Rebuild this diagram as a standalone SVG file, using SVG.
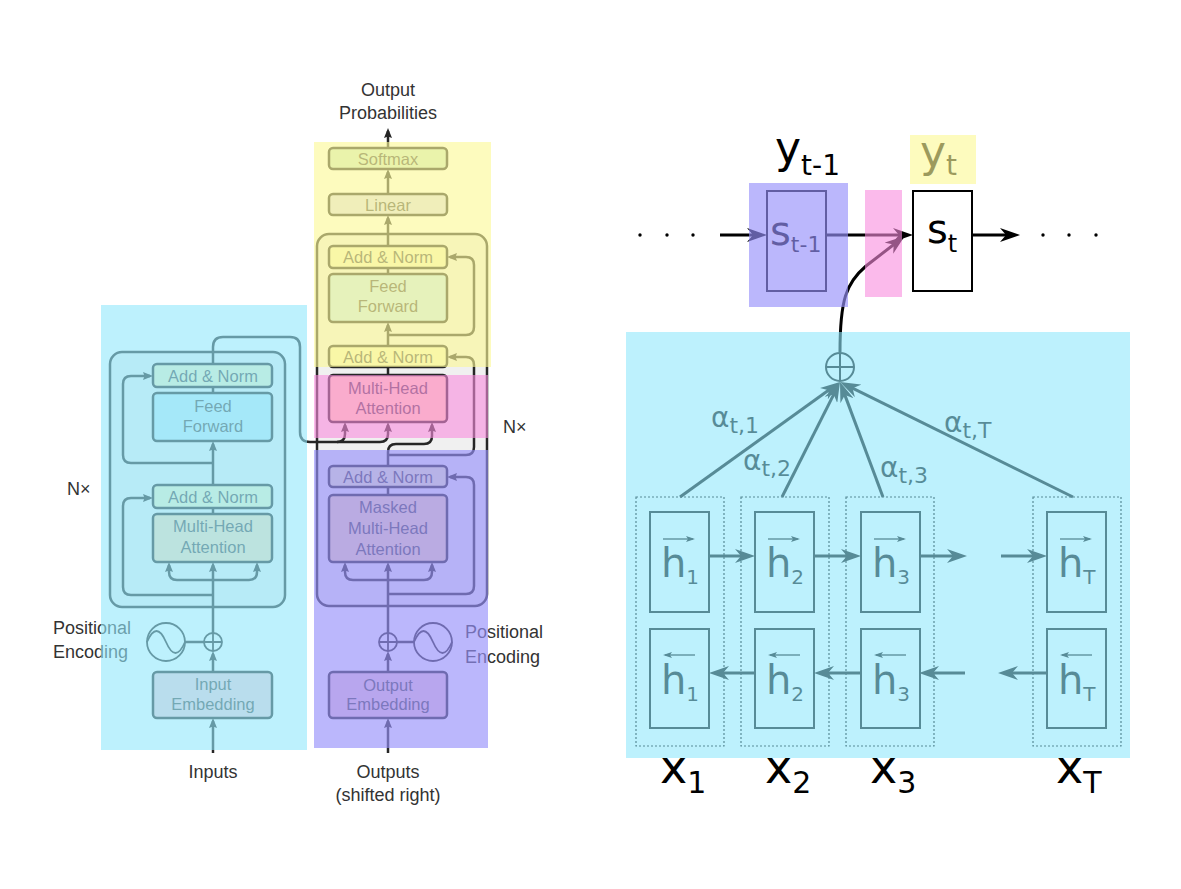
<svg xmlns="http://www.w3.org/2000/svg" width="1181" height="889" viewBox="0 0 1181 889">
<style>
.box{stroke:#262626;stroke-width:2.5}
.ln{fill:none;stroke:#262626;stroke-width:2.5}
.bt{font-family:"Liberation Sans",Arial,sans-serif;font-size:16.5px;fill:#4a4a4a;text-anchor:middle}
.ot{font-family:"Liberation Sans",Arial,sans-serif;font-size:18px;fill:#333}
.an{stroke:#000;stroke-width:3;fill:none}
.hb{fill:none;stroke:#000;stroke-width:2}
.db{fill:none;stroke:#000;stroke-width:1.2;stroke-dasharray:2 2}
.va{stroke:#000;stroke-width:1.3;fill:none}
.dv{font-family:"DejaVu Sans",sans-serif;fill:#000}
.an2{fill:#f3f3c3}
.ff{fill:#c2e8f6}
.mha{fill:#fcdcb4}
.emb{fill:#f5cdd7}
</style>
<defs>
<marker id="tri" viewBox="0 0 10 8" refX="7" refY="4" markerWidth="10" markerHeight="8" markerUnits="userSpaceOnUse" orient="auto"><path d="M0,0 L10,4 L0,8 L1.5,4 z" fill="#262626"/></marker>
<marker id="ar" viewBox="0 0 20 14" refX="14" refY="7" markerWidth="20" markerHeight="14" markerUnits="userSpaceOnUse" orient="auto"><path d="M0,0 L20,7 L0,14 L6,7 z" fill="#000"/></marker>
<marker id="sm" viewBox="0 0 9 6" refX="7" refY="3" markerWidth="9" markerHeight="6" markerUnits="userSpaceOnUse" orient="auto"><path d="M0,0 L9,3 L0,6 L2,3 z" fill="#000"/></marker>
</defs>
<rect width="1181" height="889" fill="#fff"/>

<!-- Transformer: layer frames -->
<g id="encoder-layer"><rect x="110" y="352" width="175" height="255" rx="12" fill="#f0f0f0" stroke="#262626" stroke-width="2.5"/></g>
<g id="decoder-layer"><rect x="317" y="234" width="170" height="372" rx="12" fill="#f0f0f0" stroke="#262626" stroke-width="2.5"/></g>

<!-- Transformer connectors -->
<g id="transformer-connectors" class="ln">
<path d="M213,753 V721" marker-end="url(#tri)"/>
<path d="M213,672 V654" marker-end="url(#tri)"/>
<path d="M213,633 V565" marker-end="url(#tri)"/>
<path d="M213,580 H177 Q169,580 169,572 V565" marker-end="url(#tri)"/>
<path d="M213,580 H249 Q257,580 257,572 V565" marker-end="url(#tri)"/>
<path d="M213,595 H131 Q123,595 123,587 V506 Q123,498 131,498 H150" marker-end="url(#tri)"/>
<path d="M213,514 V508"/>
<path d="M213,485 V444" marker-end="url(#tri)"/>
<path d="M213,463 H131 Q123,463 123,455 V384 Q123,376 131,376 H150" marker-end="url(#tri)"/>
<path d="M213,393 V387"/>
<path d="M213,364 V347 Q213,337 223,337 H290 Q300,337 300,347 V432 Q300,442 310,442 H380 Q388,442 388,434 V425" marker-end="url(#tri)"/>
<path d="M337,442 Q345,442 345,434 V425" marker-end="url(#tri)"/>
<path d="M185,642 H204"/>
<path d="M388,753 V721" marker-end="url(#tri)"/>
<path d="M388,672 V654" marker-end="url(#tri)"/>
<path d="M388,633 V565" marker-end="url(#tri)"/>
<path d="M388,580 H353 Q345,580 345,572 V565" marker-end="url(#tri)"/>
<path d="M388,580 H424 Q432,580 432,572 V565" marker-end="url(#tri)"/>
<path d="M388,594 H466 Q474,594 474,586 V485 Q474,477 466,477 H450" marker-end="url(#tri)"/>
<path d="M388,495 V487"/>
<path d="M388,466 V452 Q388,444 396,444 H424 Q432,444 432,436 V425" marker-end="url(#tri)"/>
<path d="M388,455 H466 Q474,455 474,447 V365 Q474,357 466,357 H450" marker-end="url(#tri)"/>
<path d="M388,375 V367"/>
<path d="M388,346 V325" marker-end="url(#tri)"/>
<path d="M388,335 H466 Q474,335 474,327 V265 Q474,257 466,257 H450" marker-end="url(#tri)"/>
<path d="M388,274 V268"/>
<path d="M388,246 V218" marker-end="url(#tri)"/>
<path d="M388,194 V172" marker-end="url(#tri)"/>
<path d="M388,148 V131" marker-end="url(#tri)"/>
<path d="M397,642 H414"/>
</g>

<!-- Encoder nodes -->
<g id="enc-addnorm2"><rect class="box an2" x="153" y="364" width="119" height="23" rx="4"/><text class="bt" x="213" y="381.5">Add &amp; Norm</text></g>
<g id="enc-ff"><rect class="box ff" x="153" y="393" width="119" height="48" rx="4"/><text class="bt" x="213" y="412">Feed</text><text class="bt" x="213" y="432">Forward</text></g>
<g id="enc-addnorm1"><rect class="box an2" x="153" y="485" width="119" height="23" rx="4"/><text class="bt" x="213" y="502.5">Add &amp; Norm</text></g>
<g id="enc-mha"><rect class="box mha" x="153" y="514" width="119" height="48" rx="4"/><text class="bt" x="213" y="532">Multi-Head</text><text class="bt" x="213" y="553">Attention</text></g>
<g id="enc-emb"><rect class="box emb" x="153" y="672" width="119" height="46" rx="4"/><text class="bt" x="213" y="690">Input</text><text class="bt" x="213" y="710">Embedding</text></g>
<g id="enc-plus" fill="none" stroke="#262626" stroke-width="1.8"><circle cx="213" cy="642" r="9"/><path d="M204,642 H222 M213,633 V651"/></g>
<g id="enc-pe" fill="none" stroke="#262626" stroke-width="1.8"><circle cx="166" cy="642" r="19"/><path d="M147,642 Q156.5,620 166,642 T185,642"/></g>

<!-- Decoder nodes -->
<g id="dec-softmax"><rect class="box" fill="#cceacc" x="329" y="148" width="118" height="21" rx="4"/><text class="bt" x="388" y="164.5">Softmax</text></g>
<g id="dec-linear"><rect class="box" fill="#dedef5" x="329" y="194" width="118" height="21" rx="4"/><text class="bt" x="388" y="210.5">Linear</text></g>
<g id="dec-addnorm3"><rect class="box an2" x="329" y="246" width="118" height="22" rx="4"/><text class="bt" x="388" y="263">Add &amp; Norm</text></g>
<g id="dec-ff"><rect class="box ff" x="329" y="274" width="118" height="48" rx="4"/><text class="bt" x="388" y="292">Feed</text><text class="bt" x="388" y="312">Forward</text></g>
<g id="dec-addnorm2"><rect class="box an2" x="329" y="346" width="118" height="21" rx="4"/><text class="bt" x="388" y="362.5">Add &amp; Norm</text></g>
<g id="dec-mha"><rect class="box mha" x="329" y="375" width="118" height="47" rx="4"/><text class="bt" x="388" y="394">Multi-Head</text><text class="bt" x="388" y="414">Attention</text></g>
<g id="dec-addnorm1"><rect class="box an2" x="329" y="466" width="118" height="21" rx="4"/><text class="bt" x="388" y="482.5">Add &amp; Norm</text></g>
<g id="dec-mmha"><rect class="box mha" x="329" y="495" width="118" height="67" rx="4"/><text class="bt" x="388" y="513">Masked</text><text class="bt" x="388" y="534">Multi-Head</text><text class="bt" x="388" y="555">Attention</text></g>
<g id="dec-emb"><rect class="box emb" x="329" y="672" width="118" height="46" rx="4"/><text class="bt" x="388" y="691">Output</text><text class="bt" x="388" y="710">Embedding</text></g>
<g id="dec-plus" fill="none" stroke="#262626" stroke-width="1.8"><circle cx="388" cy="642" r="9"/><path d="M379,642 H397 M388,633 V651"/></g>
<g id="dec-pe" fill="none" stroke="#262626" stroke-width="1.8"><circle cx="433" cy="642" r="19"/><path d="M414,642 Q423.5,620 433,642 T452,642"/></g>

<!-- Transformer labels -->
<g id="transformer-labels" class="ot">
<text x="388" y="96" text-anchor="middle">Output</text>
<text x="388" y="119" text-anchor="middle">Probabilities</text>
<text x="213" y="778" text-anchor="middle">Inputs</text>
<text x="388" y="778" text-anchor="middle">Outputs</text>
<text x="388" y="801" text-anchor="middle">(shifted right)</text>
<text x="53" y="634">Positional</text>
<text x="53" y="658">Encoding</text>
<text x="465" y="638">Positional</text>
<text x="465" y="663">Encoding</text>
<text x="67" y="495">N×</text>
<text x="503" y="433">N×</text>
</g>

<!-- Attention RNN diagram -->
<g id="rnn-connectors">
<g fill="#000"><circle cx="640" cy="235" r="1.7"/><circle cx="667" cy="235" r="1.7"/><circle cx="693" cy="235" r="1.7"/><circle cx="1043" cy="235" r="1.7"/><circle cx="1069" cy="235" r="1.7"/><circle cx="1096" cy="235" r="1.7"/></g>
<path class="an" d="M720,235 H761" marker-end="url(#ar)"/>
<path class="an" d="M826,235 H907" marker-end="url(#ar)"/>
<path class="an" d="M972,235 H1014" marker-end="url(#ar)"/>
<path class="an" d="M840,352 C840,300 846,283 866,266 L900,239.7" marker-end="url(#ar)"/>
<path class="an" d="M680,497 L835.1,385.5" marker-end="url(#ar)"/>
<path class="an" d="M782,497 L837.3,387.4" marker-end="url(#ar)"/>
<path class="an" d="M883,497 L842.1,387.6" marker-end="url(#ar)"/>
<path class="an" d="M1073,497 L845.4,384.7" marker-end="url(#ar)"/>
<path class="an" d="M709,556 H749" marker-end="url(#ar)"/>
<path class="an" d="M814,556 H855" marker-end="url(#ar)"/>
<path class="an" d="M919,556 H961" marker-end="url(#ar)"/>
<path class="an" d="M1001,556 H1041" marker-end="url(#ar)"/>
<path class="an" d="M755,673 H715" marker-end="url(#ar)"/>
<path class="an" d="M861,673 H820" marker-end="url(#ar)"/>
<path class="an" d="M965,673 H925" marker-end="url(#ar)"/>
<path class="an" d="M1047,673 H1004" marker-end="url(#ar)"/>
</g>

<g id="sum" fill="none" stroke="#000" stroke-width="2"><circle cx="840" cy="367" r="14"/><path d="M826,367 H854 M840,353 V381"/></g>

<g id="s-prev"><rect class="hb" x="767" y="191" width="59" height="100"/><text class="dv" x="770" y="245" font-size="40">s<tspan font-size="22" dy="7">t-1</tspan></text></g>
<g id="s-t"><rect class="hb" fill="#fff" x="913" y="191" width="59" height="100"/><text class="dv" x="927" y="243" font-size="40">s<tspan font-size="24" dy="9">t</tspan></text></g>
<g id="y-prev"><text class="dv" x="775" y="163" font-size="44">y<tspan font-size="28" dy="12">t-1</tspan></text></g>
<g id="y-t"><text class="dv" x="920" y="167" font-size="44">y<tspan font-size="28" dy="8">t</tspan></text></g>

<g id="weights" class="dv" font-size="28">
<text x="711" y="427">α<tspan font-size="22" dy="6">t,1</tspan></text>
<text x="743" y="470">α<tspan font-size="22" dy="6">t,2</tspan></text>
<text x="880" y="477">α<tspan font-size="22" dy="6">t,3</tspan></text>
<text x="944" y="432">α<tspan font-size="22" dy="6">t,T</tspan></text>
</g>

<g id="col-1"><rect class="db" x="636" y="497" width="88" height="249"/>
<rect class="hb" x="650" y="512" width="59" height="100"/><rect class="hb" x="650" y="629" width="59" height="99"/>
<path class="va" d="M663,539 H693" marker-end="url(#sm)"/><path class="va" d="M695,655 H665" marker-end="url(#sm)"/>
<text class="dv" x="661" y="577" font-size="40">h<tspan font-size="20" dy="7">1</tspan></text>
<text class="dv" x="661" y="694" font-size="40">h<tspan font-size="20" dy="7">1</tspan></text>
<text class="dv" x="660" y="783" font-size="46">x<tspan font-size="30" dy="10">1</tspan></text></g>

<g id="col-2"><rect class="db" x="741" y="497" width="88" height="249"/>
<rect class="hb" x="755" y="512" width="59" height="100"/><rect class="hb" x="755" y="629" width="59" height="99"/>
<path class="va" d="M768,539 H798" marker-end="url(#sm)"/><path class="va" d="M800,655 H770" marker-end="url(#sm)"/>
<text class="dv" x="766" y="577" font-size="40">h<tspan font-size="20" dy="7">2</tspan></text>
<text class="dv" x="766" y="694" font-size="40">h<tspan font-size="20" dy="7">2</tspan></text>
<text class="dv" x="765" y="783" font-size="46">x<tspan font-size="30" dy="10">2</tspan></text></g>

<g id="col-3"><rect class="db" x="846" y="497" width="88" height="249"/>
<rect class="hb" x="861" y="512" width="59" height="100"/><rect class="hb" x="861" y="629" width="59" height="99"/>
<path class="va" d="M874,539 H904" marker-end="url(#sm)"/><path class="va" d="M906,655 H876" marker-end="url(#sm)"/>
<text class="dv" x="872" y="577" font-size="40">h<tspan font-size="20" dy="7">3</tspan></text>
<text class="dv" x="872" y="694" font-size="40">h<tspan font-size="20" dy="7">3</tspan></text>
<text class="dv" x="870" y="783" font-size="46">x<tspan font-size="30" dy="10">3</tspan></text></g>

<g id="col-T"><rect class="db" x="1033" y="497" width="88" height="249"/>
<rect class="hb" x="1047" y="512" width="59" height="100"/><rect class="hb" x="1047" y="629" width="59" height="99"/>
<path class="va" d="M1060,539 H1090" marker-end="url(#sm)"/><path class="va" d="M1092,655 H1062" marker-end="url(#sm)"/>
<text class="dv" x="1058" y="577" font-size="40">h<tspan font-size="20" dy="7">T</tspan></text>
<text class="dv" x="1058" y="694" font-size="40">h<tspan font-size="20" dy="7">T</tspan></text>
<text class="dv" x="1056" y="783" font-size="46">x<tspan font-size="30" dy="10">T</tspan></text></g>

<!-- Colour highlight overlays -->
<g id="highlights">
<rect x="101" y="305" width="206" height="445" fill="#91e8fc" fill-opacity="0.6"/>
<rect x="626" y="332" width="504" height="426" fill="#91e8fc" fill-opacity="0.6"/>
<rect x="314" y="142" width="177" height="225" fill="#fcf896" fill-opacity="0.62"/>
<rect x="910" y="135" width="66" height="49" fill="#fcf896" fill-opacity="0.62"/>
<rect x="314" y="375" width="174" height="63" fill="#f88cde" fill-opacity="0.6"/>
<rect x="865" y="190" width="37" height="107" fill="#f88cde" fill-opacity="0.6"/>
<rect x="314" y="450" width="174" height="298" fill="#9691fa" fill-opacity="0.65"/>
<rect x="749" y="183" width="99" height="124" fill="#9691fa" fill-opacity="0.65"/>
</g>
</svg>
